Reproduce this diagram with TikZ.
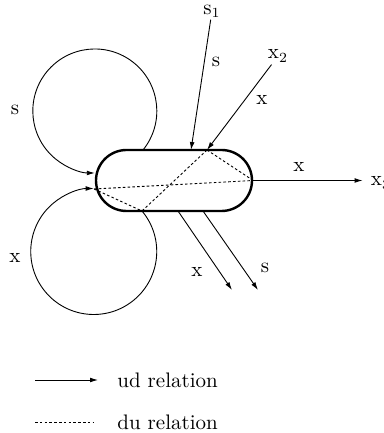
\documentclass[tikz,border=0pt]{standalone}
\usepackage{tikz}
\usetikzlibrary{arrows.meta,shapes.misc}

\begin{document}
\begin{tikzpicture}[
    x=0.5pt, y=0.5pt,
    lbl/.style={font=\fontsize{10.5}{12}\selectfont, inner sep=1pt},
    unitbox/.style={draw, rounded rectangle, line width=1.2pt, minimum width=78pt,
                minimum height=30.5pt, inner sep=0pt},
    arr/.style={-{Latex[length=4pt,width=2.4pt]}, line width=0.45pt},
    du/.style={line width=0.45pt, dash pattern=on 1.3pt off 1.1pt}
]
\useasboundingbox (0,0) rectangle (384,433);
\node[unitbox] (unit) at (174,252.5) {};

\coordinate (tin1) at (191,283);
\coordinate (tin2) at (207,283);
\coordinate (bout1) at (178,222);
\coordinate (bout2) at (203,222);
\coordinate (ltop) at (143,283);
\coordinate (lbot) at (142,222);
\coordinate (lend) at (94,244);
\coordinate (out1) at (232,143);
\coordinate (out2) at (258,143);

\node[lbl] (s1) at (212,422) {s$_1$};
\node[lbl] (x2) at (278,377) {x$_2$};
\node[lbl, inner sep=4pt] (x3) at (381,250) {x$_3$};

\draw[arr] (s1) -- (tin1);
\draw[arr] (x2) -- (tin2);
\draw[arr] (unit.east) -- (unit.east -| x3.west);
\draw[arr] (bout1) -- (out1);
\draw[arr] (bout2) -- (out2);
\draw[arr] (ltop) arc[start angle=-39, end angle=270, radius=62];
\draw[arr] (lbot) arc[start angle=40, end angle=-270, radius=63];

\draw[du] (tin2) -- (unit.east);
\draw[du] (tin2) -- (lbot);
\draw[du] (lend) -- (unit.east);
\draw[du] (lend) -- (lbot);

\node[lbl] (ls1) at (216,371) {s};
\node[lbl] (lx2) at (262,333) {x};
\node[lbl] (lx3) at (299,266) {x};
\node[lbl] (lsup) at (15,323) {s};
\node[lbl] (lxdn) at (15,175) {x};
\node[lbl] (lout1) at (197,161) {x};
\node[lbl] (lout2) at (265,165) {s};

\coordinate (ud1) at (35,53);
\coordinate (ud2) at (98,53);
\coordinate (dd1) at (35,11);
\coordinate (dd2) at (93,11);
\draw[arr] (ud1) -- (ud2);
\draw[du] (dd1) -- (dd2);
\node[lbl, anchor=west] (udtxt) at (115,53) {ud relation};
\node[lbl, anchor=west] (dutxt) at (115,11) {du relation};
\end{tikzpicture}
\end{document}
